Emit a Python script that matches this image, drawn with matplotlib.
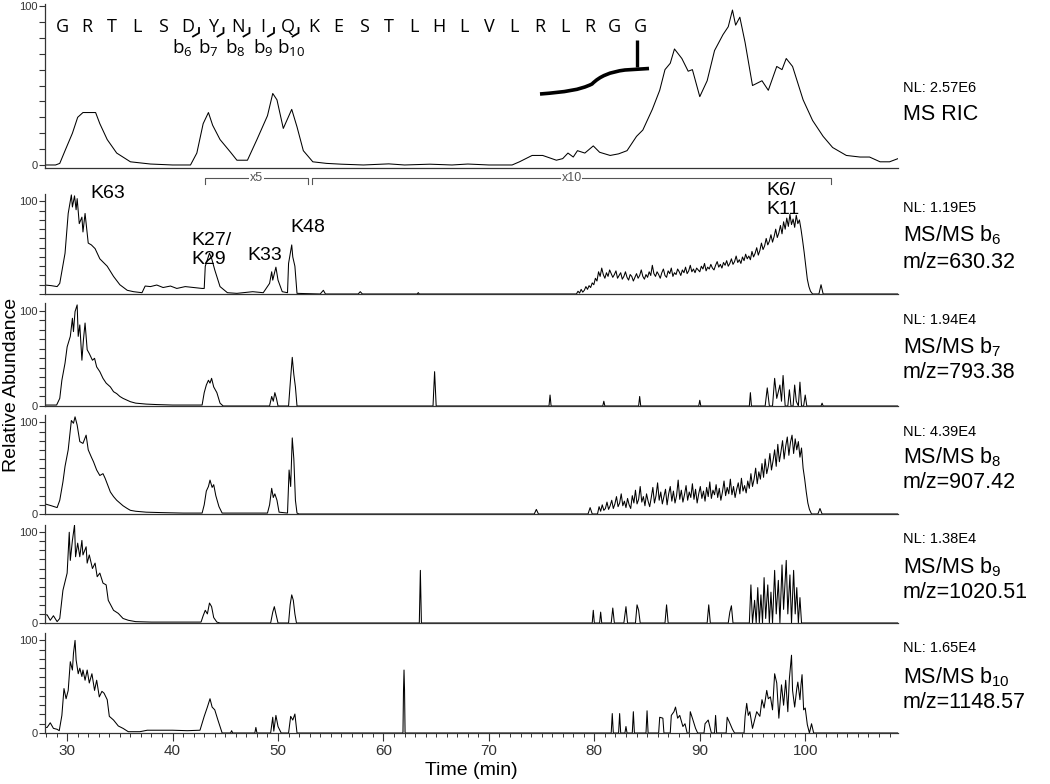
import matplotlib
matplotlib.use("Agg")
import matplotlib.pyplot as plt
from matplotlib.path import Path
from matplotlib.patches import PathPatch
from matplotlib.ticker import MultipleLocator, FixedLocator

plt.rcParams['font.family'] = ['Liberation Sans', 'DejaVu Sans']

# ---------------- data (time in min, relative abundance in %) ----------------
t_ric = [27.9, 28.9, 29.3, 29.8, 30.5, 31.0, 31.5, 32.7, 33.1, 33.8, 34.7, 36.0, 37.9, 40.0, 41.7,
         42.3, 42.9, 43.4, 43.8, 44.5, 45.5, 46.1, 47.1, 48.0, 49.0, 49.5, 49.9, 50.5, 51.3, 51.8,
         52.4, 53.3, 54.6, 56.0, 58.1, 60.5, 62.0, 64.4, 66.5, 68.0, 70.0, 72.2, 72.9, 74.1, 75.1,
         76.4, 77.0, 77.5, 78.0, 78.4, 79.1, 79.9, 80.5, 81.5, 82.3, 83.1, 84.0, 84.6, 85.5, 86.2,
         86.7, 87.2, 87.6, 88.3, 88.9, 89.3, 90.0, 90.7, 91.4, 92.2, 92.7, 93.1, 93.4, 93.8, 94.3,
         95.0, 95.9, 96.5, 97.3, 97.8, 98.2, 98.8, 99.8, 100.7, 101.7, 102.6, 103.9, 105.2, 106.1,
         107.1, 108.0, 108.8]
y_ric = [0, 0, 1, 9, 20, 30, 33, 33, 26, 16, 7.5, 2, 0.6, 0, 0,
         7.5, 26, 33, 25, 16, 8, 3, 3, 16, 31, 45, 41, 23, 35, 24,
         9, 2, 1, 0.5, 0, 0.7, 0, 0.5, 0, 0.6, 0, 0, 2, 6, 6,
         3, 4, 7.5, 5, 9, 7.5, 12, 8, 6, 7, 9, 18, 22, 35, 47,
         60, 64, 73, 67, 59, 60, 43, 53, 72, 82, 87, 97.5, 88, 93, 77,
         50, 53, 47, 62, 60, 67, 62, 41, 28, 18, 11, 6, 5, 5,
         2, 2, 4]

t_b6 = [27.9, 28.5, 29.05, 29.3, 29.8, 30.1, 30.4, 30.5, 30.7, 30.85, 30.95, 31.15, 31.4, 31.5,
        31.7, 31.9, 32.0, 32.3, 32.65, 33.1, 33.8, 34.4, 35.0, 35.7, 36.3, 37.1, 37.4, 37.9, 38.5,
        39.1, 39.8, 40.4, 41.2, 42.0, 42.8, 43.0, 43.1, 43.3, 43.5, 43.7, 44.0, 44.5, 45.2, 46.1,
        47.6, 48.6, 49.2, 49.4, 49.5, 49.8, 50.0, 50.4, 50.9, 51.0, 51.3, 51.4, 51.6, 51.8, 54.0,
        54.3, 54.5, 57.6, 57.8, 58.0, 63.2, 63.3, 63.4,
        78.3, 78.45, 78.6, 78.75, 78.9, 79.05, 79.2, 79.35, 79.5, 79.65, 79.8, 79.95, 80.1, 80.25,
        80.4, 80.55, 80.7, 80.85, 81.0, 81.15, 81.3, 81.45, 81.6, 81.75, 81.9, 82.05, 82.2, 82.35,
        82.5, 82.65, 82.8, 82.95, 83.1, 83.25, 83.4, 83.55, 83.7, 83.85, 84.0, 84.15, 84.3, 84.45,
        84.6, 84.75, 84.9, 85.05, 85.2, 85.35, 85.5, 85.65, 85.8, 85.95, 86.1, 86.25, 86.4, 86.55,
        86.7, 86.85, 87.0, 87.15, 87.3, 87.45, 87.6, 87.75, 87.9, 88.05, 88.2, 88.35, 88.5, 88.65,
        88.8, 88.95, 89.1, 89.25, 89.4, 89.55, 89.7, 89.85, 90.0, 90.15, 90.3, 90.45, 90.6, 90.75,
        90.9, 91.05, 91.2, 91.35, 91.5, 91.65, 91.8, 91.95, 92.1, 92.25, 92.4, 92.55, 92.7, 92.85,
        93.0, 93.15, 93.3, 93.45, 93.6, 93.75, 93.9, 94.05, 94.2, 94.35, 94.5, 94.65, 94.8, 94.95,
        95.1, 95.25, 95.4, 95.55, 95.7, 95.85, 96.0, 96.15, 96.3, 96.45, 96.6, 96.75, 96.9, 97.05,
        97.2, 97.35, 97.5, 97.65, 97.8, 97.95, 98.1, 98.25, 98.4, 98.55, 98.7, 98.85, 99.0, 99.15,
        99.3, 99.45, 99.6, 99.75, 99.9, 100.05, 100.2, 100.35, 100.5, 100.7, 101.3, 101.5, 101.7,
        108.8]
y_b6 = [9.7, 9, 8, 11.5, 44, 87, 107, 94, 106, 91, 103, 76, 83, 67,
        87, 65, 55, 53, 49, 38, 30, 19, 10, 4, 2.5, 1.4, 8.6, 8, 9.7,
        7, 8.6, 6, 8, 7, 6, 6, 30, 37, 44, 38.5, 26, 8, 1.4, 0.7,
        2.5, 1.4, 11.5, 24, 15, 29, 15, 2.5, 1.4, 33, 53, 40, 30, 0.7, 0,
        4, 0, 0, 2.5, 0, 0, 1.5, 0,
        0, 3, 1, 5, 2, 4, 8, 5, 9, 7, 12, 10, 17, 14,
        24, 19, 28, 21, 17, 23, 19, 26, 22, 18, 21, 25, 17, 20,
        23, 16, 19, 24, 18, 15, 21, 19, 14, 18, 22, 17, 20, 26,
        19, 16, 21, 18, 24, 20, 31, 22, 19, 24, 21, 17, 23, 27,
        20, 18, 25, 22, 28, 19, 23, 21, 27, 24, 20, 26, 23, 29,
        22, 25, 31, 24, 27, 23, 28, 26, 24, 30, 27, 33, 25, 29,
        27, 32, 28, 26, 31, 35, 29, 32, 28, 34, 31, 36, 30, 33,
        38, 32, 35, 41, 34, 37, 33, 40, 36, 43, 38, 41, 37, 46,
        40, 44, 50, 42, 47, 55, 48, 52, 60, 53, 57, 64, 56, 62,
        70, 61, 66, 74, 65, 78, 70, 82, 73, 86, 75, 81, 72, 85,
        76, 80, 70, 58, 45, 30, 16, 8, 3, 0, 0, 10, 0,
        0]

t_b7 = [27.9, 29.0, 29.3, 29.5, 29.8, 30.0, 30.3, 30.5, 30.6, 30.75, 30.95, 31.05, 31.2, 31.4,
        31.55, 31.7, 31.9, 32.1, 32.4, 32.6, 32.8, 33.1, 33.4, 33.7, 34.1, 34.4, 34.7, 35.0, 35.3,
        35.7, 36.0, 36.5, 37.5, 38.5, 40.0, 42.0, 42.8, 43.0, 43.2, 43.4, 43.55, 43.7, 43.9, 44.2,
        44.5, 44.8, 49.2, 49.4, 49.55, 49.7, 49.85, 50.0, 51.0, 51.2, 51.35, 51.5, 51.65, 51.8,
        64.7, 64.85, 65.0, 75.7, 75.8, 75.9, 80.8, 80.9, 81.0, 84.2, 84.3, 84.4, 89.9, 90.0, 90.1,
        94.7, 94.8, 94.9, 96.2, 96.4, 96.6, 96.9, 97.1, 97.3, 97.6, 97.75, 97.9, 98.1, 98.35, 98.5,
        98.65, 98.85, 99.0, 99.15, 99.35, 99.5, 99.65, 99.85, 100.0, 100.15, 101.5, 101.6, 101.7,
        108.8]
y_b7 = [1, 1, 8, 27, 45, 62, 73, 92, 78, 99, 106, 73, 85, 48,
        70, 87, 59, 55, 48, 50, 41, 36, 29, 24, 20, 15, 13, 10, 8,
        6, 4.5, 3, 2, 1.5, 1, 1, 1, 14, 22, 27, 24, 29, 20, 14,
        3, 0, 0, 10, 5, 14, 8, 0, 0, 30, 51, 33, 20, 0,
        0, 36, 0, 0, 11.5, 0, 0, 5, 0, 0, 10, 0, 0, 6, 0,
        0, 14, 0, 0, 19, 0, 0, 29, 8, 22, 5, 32, 0, 0, 17,
        0, 0, 22, 5, 0, 25, 0, 0, 11.5, 0, 0, 3, 0,
        0]

t_b8 = [27.9, 28.5, 29.05, 29.3, 29.6, 29.8, 30.1, 30.4, 30.6, 30.75, 30.95, 31.2, 31.5, 31.8,
        32.0, 32.3, 32.5, 32.8, 33.1, 33.4, 33.6, 33.9, 34.1, 34.4, 34.7, 35.0, 35.3, 35.7, 36.0,
        36.5, 37.5, 39.0, 41.0, 42.8, 43.0, 43.2, 43.4, 43.55, 43.75, 43.9, 44.1, 44.4, 44.7, 49.0,
        49.2, 49.4, 49.55, 49.7, 49.9, 50.1, 50.9, 51.05, 51.2, 51.35, 51.5, 51.65, 51.8, 52.0,
        74.3, 74.5, 74.7, 79.4, 79.6, 79.8,
        80.3, 80.45, 80.6, 80.75, 80.9, 81.05, 81.2, 81.35, 81.5, 81.65, 81.8, 81.95, 82.1, 82.25,
        82.4, 82.55, 82.7, 82.85, 83.0, 83.15, 83.3, 83.45, 83.6, 83.75, 83.9, 84.05, 84.2, 84.35,
        84.5, 84.65, 84.8, 84.95, 85.1, 85.25, 85.4, 85.55, 85.7, 85.85, 86.0, 86.15, 86.3, 86.45,
        86.6, 86.75, 86.9, 87.05, 87.2, 87.35, 87.5, 87.65, 87.8, 87.95, 88.1, 88.25, 88.4, 88.55,
        88.7, 88.85, 89.0, 89.15, 89.3, 89.45, 89.6, 89.75, 89.9, 90.05, 90.2, 90.35, 90.5, 90.65,
        90.8, 90.95, 91.1, 91.25, 91.4, 91.55, 91.7, 91.85, 92.0, 92.15, 92.3, 92.45, 92.6, 92.75,
        92.9, 93.05, 93.2, 93.35, 93.5, 93.65, 93.8, 93.95, 94.1, 94.25, 94.4, 94.55, 94.7, 94.85,
        95.0, 95.15, 95.3, 95.45, 95.6, 95.75, 95.9, 96.05, 96.2, 96.35, 96.5, 96.65, 96.8, 96.95,
        97.1, 97.25, 97.4, 97.55, 97.7, 97.85, 98.0, 98.15, 98.3, 98.45, 98.6, 98.75, 98.9, 99.05,
        99.2, 99.35, 99.5, 99.65, 99.8, 99.95, 100.1, 100.25, 100.4, 100.6, 101.2, 101.4, 101.6,
        108.8]
y_b8 = [11, 9, 7, 15, 35, 52, 70, 102, 99, 106, 97, 79, 77, 86,
        70, 62, 57, 48, 42, 44, 39, 30, 24, 19, 15, 12, 9, 6, 4,
        3, 2, 1.5, 1, 1, 10, 25, 30, 37, 29, 32, 20, 8, 1, 1,
        10, 28, 18, 22, 15, 2, 1, 48, 30, 83, 60, 15, 1, 0,
        0, 5, 0, 0, 7, 0,
        0, 8, 3, 10, 4, 6, 13, 5, 9, 15, 6, 11, 19, 8,
        12, 22, 9, 14, 7, 17, 10, 6, 20, 12, 26, 11, 16, 30,
        13, 19, 9, 22, 14, 8, 18, 29, 12, 20, 34, 15, 24, 11,
        19, 27, 10, 22, 30, 14, 25, 12, 20, 37, 16, 26, 13, 21,
        31, 15, 24, 18, 33, 16, 27, 12, 22, 30, 17, 25, 14, 29,
        19, 35, 17, 26, 21, 32, 18, 28, 15, 24, 36, 20, 29, 22,
        38, 21, 30, 18, 27, 34, 22, 39, 25, 31, 23, 36, 28, 44,
        30, 38, 50, 33, 46, 38, 55, 40, 60, 44, 52, 66, 48, 58,
        70, 52, 76, 57, 68, 80, 60, 74, 84, 64, 78, 86, 66, 82,
        70, 79, 62, 72, 50, 38, 24, 12, 5, 0, 0, 6, 0,
        0]

t_b9 = [27.9, 28.1, 28.4, 28.7, 29.05, 29.3, 29.6, 30.0, 30.2, 30.3, 30.5, 30.7, 30.8, 31.0,
        31.2, 31.4, 31.5, 31.8, 31.9, 32.1, 32.4, 32.65, 32.85, 33.1, 33.4, 33.7, 33.9, 34.4,
        34.85, 35.3, 35.8, 36.5, 38.0, 42.7, 42.9, 43.1, 43.3, 43.5, 43.7, 43.9, 44.2, 44.5, 49.3,
        49.5, 49.65, 49.8, 50.0, 51.0, 51.15, 51.3, 51.45, 51.6, 51.75, 63.4, 63.5, 63.6, 79.8,
        79.9, 80.0, 80.5, 80.6, 80.7, 81.6, 81.75, 81.9, 82.8, 83.0, 83.15, 83.9, 84.05, 84.2,
        84.35, 86.7, 86.85, 87.0, 90.7, 90.85, 91.0, 92.7, 92.85, 93.0, 93.15, 94.7, 94.85, 95.0,
        95.2, 95.35, 95.5, 95.65, 95.8, 95.95, 96.1, 96.25, 96.45, 96.6, 96.75, 96.9, 97.1, 97.25,
        97.45, 97.6, 97.8, 97.95, 98.2, 98.35, 98.55, 98.7, 98.9, 99.05, 99.2, 99.35, 99.5, 99.65,
        108.8]
y_b9 = [9, 9, 3, 8, 1.5, 5, 36, 55, 100, 69, 91, 108, 73, 88,
        73, 91, 75, 84, 66, 75, 60, 66, 51, 55, 44, 42, 25, 14,
        10.6, 5, 3, 1.5, 1, 1, 8, 14, 10, 22, 18, 6, 1, 0, 0,
        12, 18, 10, 0, 0, 20, 31, 25, 10, 0, 0, 58, 0, 0,
        14, 0, 0, 12, 0, 0, 16.5, 0, 0, 18, 0, 0, 20, 14,
        0, 0, 20, 0, 0, 20, 0, 0, 12, 19, 0, 0, 42, 0,
        25, 0, 39, 0, 31, 0, 50, 5, 42, 0, 34, 0, 58, 10,
        47, 0, 64, 15, 69, 10, 53, 0, 58, 10, 39, 0, 28, 0,
        0]

t_b10 = [27.9, 28.1, 28.4, 28.7, 29.05, 29.25, 29.5, 29.7, 29.9, 30.1, 30.3, 30.5, 30.6, 30.75,
         30.85, 31.05, 31.2, 31.4, 31.5, 31.7, 31.9, 32.1, 32.35, 32.6, 32.8, 33.05, 33.3, 33.5,
         33.8, 34.0, 34.4, 34.85, 35.3, 35.8, 36.9, 37.6, 38.5, 40.0, 41.4, 42.6, 43.0, 43.3, 43.55,
         43.75, 44.0, 44.3, 44.7, 45.5, 45.6, 45.7, 47.8, 47.9, 48.0, 49.3, 49.5, 49.6, 49.8, 50.0,
         50.3, 51.0, 51.2, 51.4, 51.6, 51.8, 61.85, 61.9, 61.95, 62.0, 62.05, 81.6, 81.7, 81.8,
         82.3, 82.4, 82.5, 82.9, 83.0, 83.1, 83.6, 83.7, 83.8, 84.9, 85.0, 85.1, 86.1, 86.2, 86.5,
         86.6, 87.2, 87.3, 87.55, 87.7, 87.9, 88.1, 88.4, 88.6, 88.8, 89.0, 89.1, 89.3, 89.6, 89.8,
         90.4, 90.5, 90.8, 90.95, 91.1, 91.4, 91.5, 91.6, 92.5, 92.6, 92.8, 93.1, 93.3, 94.2, 94.3,
         94.45, 94.6, 94.75, 95.0, 95.2, 95.4, 95.7, 95.9, 96.1, 96.35, 96.5, 96.7, 96.9, 97.1,
         97.3, 97.5, 97.75, 97.95, 98.15, 98.35, 98.5, 98.7, 98.8, 99.0, 99.2, 99.3, 99.5, 99.6,
         99.7, 99.85, 100.0, 100.2, 100.4, 100.6, 100.8, 108.8]
y_b10 = [6, 6, 11, 5, 4, 2.5, 19, 48, 37, 46, 77, 68, 86, 100,
         79, 64, 70, 61, 68, 57, 68, 54, 64, 46, 57, 39, 45, 43,
         36, 18, 14, 7.6, 5, 1.4, 1.4, 3, 3, 3, 2.5, 3, 18, 28, 37,
         28, 25, 14, 0, 0, 2.5, 0, 0, 6, 0, 0, 17, 2, 19, 7,
         0, 0, 18, 14, 20.5, 0, 0, 46, 68, 46, 0, 0, 21, 0,
         0, 21, 0, 0, 7, 0, 0, 23, 0, 0, 24, 0, 0, 17, 16,
         0, 0, 19, 23, 28, 16, 19, 7, 10, 0, 0, 23, 16, 5, 0,
         0, 10, 14, 7, 0, 0, 19, 0, 0, 17, 12, 4, 0, 0, 18,
         32, 19, 23, 5, 14, 23, 18, 36, 27, 46, 37, 39, 25, 64,
         54, 16, 52, 30, 57, 23, 59, 84, 46, 28, 48, 55, 36, 52,
         63, 25, 27, 9, 0, 10, 0, 0]

traces = [(t_ric, y_ric), (t_b6, y_b6), (t_b7, y_b7), (t_b8, y_b8), (t_b9, y_b9), (t_b10, y_b10)]

nl_labels = ['NL: 2.57E6', 'NL: 1.19E5', 'NL: 1.94E4', 'NL: 4.39E4', 'NL: 1.38E4', 'NL: 1.65E4']
scan_labels = ['MS RIC', r'MS/MS $\mathregular{b_6}$', r'MS/MS $\mathregular{b_7}$',
               r'MS/MS $\mathregular{b_8}$', r'MS/MS $\mathregular{b_9}$', r'MS/MS $\mathregular{b_{10}}$']
mz_labels = ['', 'm/z=630.32', 'm/z=793.38', 'm/z=907.42', 'm/z=1020.51', 'm/z=1148.57']

peptide = list("GRTLSDYNIQKESTLHLVLRLRGG")
frag_labels = [r'$\mathregular{b_6}$', r'$\mathregular{b_7}$', r'$\mathregular{b_8}$',
               r'$\mathregular{b_9}$', r'$\mathregular{b_{10}}$']

peak_labels = ['K63', 'K27/\nK29', 'K33', 'K48', 'K6/\nK11']

x_major = [30, 40, 50, 60, 70, 80, 90, 100]

# ---------------- layout ----------------
W, H = 1050, 784
fig = plt.figure(figsize=(W / 100, H / 100), dpi=100)


def fx(x):
    return x / W


def fy(y):
    return 1 - y / H


X_LEFT, X_RIGHT = 45, 898
XLIM = (27.9, 108.8)
# (top px, bottom px, ylim)
panels = [(4, 168, (-1.9, 101.3)),
          (194, 294, (0, 108)),
          (303, 406, (0, 108)),
          (415, 514, (0, 108)),
          (525, 623, (0, 108)),
          (633, 733, (0, 108))]

axes = []
for i, ((top, bot, yl), (tt, yy)) in enumerate(zip(panels, traces)):
    ax = fig.add_axes([fx(X_LEFT), fy(bot), fx(X_RIGHT - X_LEFT), (bot - top) / H])
    ax.plot(tt, yy, color='black', lw=0.75)
    ax.set_xlim(*XLIM)
    ax.set_ylim(*yl)
    for s in ('top', 'right'):
        ax.spines[s].set_visible(False)
    for s in ('left', 'bottom'):
        ax.spines[s].set_color('#333333')
        ax.spines[s].set_linewidth(0.9)
    ax.yaxis.set_major_locator(FixedLocator(list(range(0, 101, 10))))
    lbls = ['' for _ in range(11)]
    lbls[-1] = '100'
    if i != 1:
        lbls[0] = '0'
    ax.set_yticklabels(lbls)
    ax.tick_params(axis='y', direction='out', length=4, width=0.8, colors='#333333',
                   labelsize=8, pad=1)
    if i < len(panels) - 1:
        ax.tick_params(axis='x', bottom=False, labelbottom=False)
    else:
        ax.xaxis.set_major_locator(FixedLocator(x_major))
        ax.xaxis.set_minor_locator(MultipleLocator(1))
        ax.tick_params(axis='x', which='major', direction='out', length=6, width=0.8,
                       colors='#333333', labelsize=11, pad=2)
        ax.tick_params(axis='x', which='minor', direction='out', length=3, width=0.7,
                       colors='#333333')
        ax.set_xlabel('Time (min)', fontsize=14, labelpad=3)
    axes.append(ax)

# right-hand labels
nl_y = [88, 208, 320, 432, 539, 648]
sc_y = [115, 235, 347, 457, 567, 677]
mz_y = [None, 262, 373, 483, 593, 703]
for i in range(6):
    fig.text(fx(903), fy(nl_y[i]), nl_labels[i], fontsize=10.5, va='center', ha='left')
    fig.text(fx(903), fy(sc_y[i]), scan_labels[i], fontsize=15.5, va='center', ha='left')
    if mz_labels[i]:
        fig.text(fx(903), fy(mz_y[i]), mz_labels[i], fontsize=15.5, va='center', ha='left')

# y axis label
fig.text(fx(12), fy(385), 'Relative Abundance', rotation=90, fontsize=14,
         va='center', ha='center')

# peptide sequence
for k, ch in enumerate(peptide):
    fig.text(fx(62 + k * 25.13), fy(27), ch, fontsize=13, ha='center', va='center',
             family=['Open Sans', 'DejaVu Sans'])
frag_x = [182, 208, 235, 263, 291]
for k, lab in enumerate(frag_labels):
    fig.text(fx(frag_x[k]), fy(47), lab, fontsize=13.5, ha='center', va='center',
             family=['Open Sans', 'DejaVu Sans'])
hook_x = [199, 223.5, 249.5, 274, 298.5]
for hx in hook_x:
    fig.add_artist(plt.Line2D([fx(hx), fx(hx), fx(hx - 6)], [fy(28), fy(33), fy(36.5)],
                              transform=fig.transFigure, color='black', lw=1.3))

# C-terminal G marker
fig.add_artist(plt.Line2D([fx(637), fx(637)], [fy(40), fy(67)], transform=fig.transFigure,
                          color='black', lw=2.4, solid_capstyle='butt'))
verts = [(540, 94), (565, 92), (580, 90), (592, 84), (600, 76), (610, 72), (625, 70), (649, 68.5)]
codes = [Path.MOVETO, Path.CURVE4, Path.CURVE4, Path.CURVE4, Path.CURVE4, Path.CURVE4,
         Path.CURVE4, Path.LINETO]
path = Path([(fx(a), fy(b)) for a, b in verts], codes)
fig.add_artist(PathPatch(path, transform=fig.transFigure, facecolor='none',
                         edgecolor='black', lw=2.6, capstyle='butt'))

# scale brackets
br_col = '#555555'
for (x0, x1, lab) in [(205, 308, 'x5'), (312, 831, 'x10')]:
    fig.add_artist(plt.Line2D([fx(x0), fx(x0), fx(x1), fx(x1)],
                              [fy(184), fy(178), fy(178), fy(184)],
                              transform=fig.transFigure, color=br_col, lw=0.8))
    fig.text(fx((x0 + x1) / 2), fy(178), lab, fontsize=9, color=br_col, ha='center',
             va='center', bbox=dict(facecolor='white', edgecolor='none', pad=0.5))

# peak labels
peak_pos = [(90, 193), (191, 250), (247, 256), (290, 228), (766, 200)]
for lab, (px, py) in zip(peak_labels, peak_pos):
    fig.text(fx(px), fy(py), lab, fontsize=14, ha='left', va='center', linespacing=1.2)

fig.savefig('out.png', dpi=100)
